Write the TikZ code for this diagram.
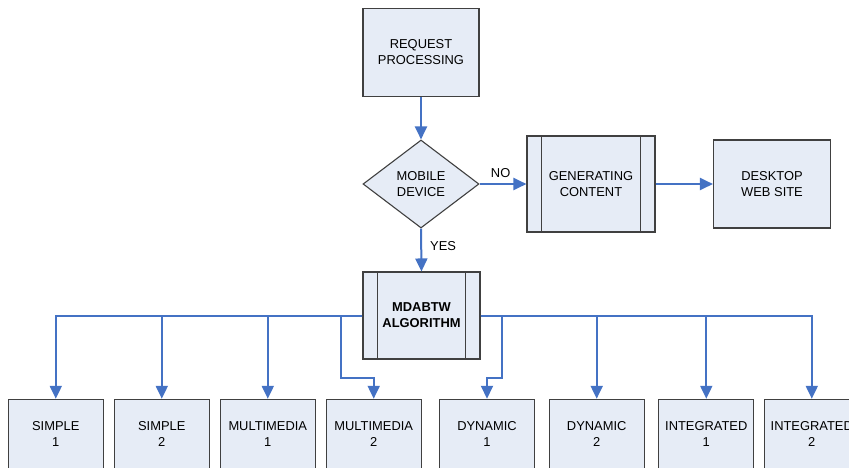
\documentclass[tikz,border=0pt]{standalone}
\usepackage{fontspec}
\setmainfont{Liberation Sans}
\usetikzlibrary{shapes.geometric,arrows.meta,calc}
\definecolor{boxfill}{HTML}{E6ECF6}
\definecolor{boxline}{HTML}{404040}
\definecolor{flow}{HTML}{4472C4}
\begin{document}
\begin{tikzpicture}[x=1pt,y=-1pt,
  every node/.style={font=\fontsize{12.9}{16}\selectfont, align=center, inner sep=0pt},
  box/.style={draw=boxline, fill=boxfill, line width=1.1pt, minimum width=#1, rectangle},
  box/.default=117pt,
  dec/.style={draw=boxline, fill=boxfill, line width=1.1pt, diamond, aspect=1.32, minimum width=116pt, minimum height=88pt},
  flowarrow/.style={draw=flow, line width=2pt, -{Triangle[length=13pt,width=12pt]}},
  sideline/.style={draw=boxline, line width=1.1pt},
  lbl/.style={font=\fontsize{12.9}{16}\selectfont}
]
\useasboundingbox (0,0) rectangle (849,467);
\clip (0,0) rectangle (849,467);

% top boxes
\node[box=116pt, minimum height=88pt] (req) at (421,52.5) {REQUEST\\PROCESSING};
\node[dec] (mob) at (421,184) {MOBILE\\DEVICE};
\node[box=128pt, minimum height=96pt] (gen) at (591,184) {GENERATING\\CONTENT};
\draw[sideline] ($(gen.north west)+(15,0)$) -- ($(gen.south west)+(15,0)$);
\draw[sideline] ($(gen.north east)+(-15,0)$) -- ($(gen.south east)+(-15,0)$);
\node[box=117pt, minimum height=88pt] (desk) at (772,184) {DESKTOP\\WEB SITE};
\node[box=117pt, minimum height=87pt, font=\fontsize{12.9}{16}\selectfont\bfseries] (alg) at (421.5,315.5) {MDABTW\\ALGORITHM};
\draw[sideline] ($(alg.north west)+(15,0)$) -- ($(alg.south west)+(15,0)$);
\draw[sideline] ($(alg.north east)+(-15,0)$) -- ($(alg.south east)+(-15,0)$);

% bottom boxes
\node[box=95pt, minimum height=70pt] (s1) at (55.8,434.3) {SIMPLE\\1};
\node[box=95pt, minimum height=70pt] (s2) at (161.8,434.3) {SIMPLE\\2};
\node[box=95pt, minimum height=70pt] (m1) at (267.8,434.3) {MULTIMEDIA\\1};
\node[box=95pt, minimum height=70pt] (m2) at (373.7,434.3) {MULTIMEDIA\\2};
\node[box=95pt, minimum height=70pt] (d1) at (487,434.3) {DYNAMIC\\1};
\node[box=95pt, minimum height=70pt] (d2) at (596.7,434.3) {DYNAMIC\\2};
\node[box=95pt, minimum height=70pt] (i1) at (706.3,434.3) {INTEGRATED\\1};
\node[box=95pt, minimum height=70pt] (i2) at (811.8,434.3) {INTEGRATED\\2};

% connectors
\draw[flowarrow] (req) -- (mob);
\draw[flowarrow] (mob.east) -- (gen.west) node[pos=0.45, above=5pt, lbl] {NO};
\draw[flowarrow] (gen.east) -- (desk.west);
\draw[flowarrow] (mob.south) -- (alg.north) node[pos=0.4, right=8pt, lbl] {YES};

\coordinate (bm2) at (340.7,377.7);
\coordinate (bd1) at (501.7,377.7);
\draw[flowarrow] (alg.west) -| (s1.north);
\draw[flowarrow] (alg.west) -| (s2.north);
\draw[flowarrow] (alg.west) -| (m1.north);
\draw[flowarrow] (alg.west) -| (bm2) -| (m2.north);
\draw[flowarrow] (alg.east) -| (bd1) -| (d1.north);
\draw[flowarrow] (alg.east) -| (d2.north);
\draw[flowarrow] (alg.east) -| (i1.north);
\draw[flowarrow] (alg.east) -| (i2.north);
\end{tikzpicture}
\end{document}
